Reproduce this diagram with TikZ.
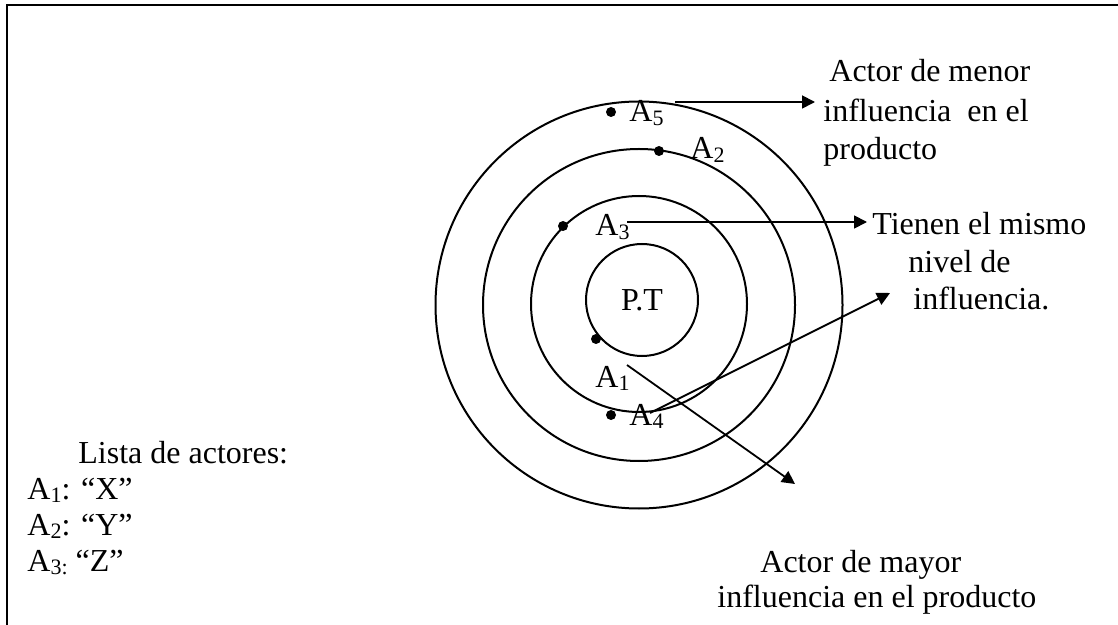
\documentclass[tikz,border=0pt]{standalone}
\usepackage{fontspec}
\setmainfont{Liberation Serif}
\usetikzlibrary{arrows.meta}
% lowered, smaller digits for actor indices
\newcommand\subs[1]{\raisebox{-1.6pt}{\fontsize{11pt}{12pt}\selectfont #1}}

\begin{document}
\begin{tikzpicture}[x=0.5pt,y=-0.5pt,
  ring/.style={draw, circle, line width=1pt, inner sep=0pt, outer sep=0pt},
  actor/.style={circle, fill, inner sep=0pt, minimum size=5pt},
  txt/.style={inner sep=0pt, font=\fontsize{16pt}{19.5pt}\selectfont},
  lbl/.style={txt, anchor=base west},
  pointer/.style={line width=0.9pt, -{Triangle[length=6.5pt,width=6.5pt]}},
  frame/.style={line width=1.4pt}
]
\useasboundingbox (0,0) rectangle (1118,625);

% page frame (top and left edges)
\draw[frame] (7,625) -- (7,5) -- (1118,5);

% concentric influence rings
\node[ring, minimum size=203.5pt] (outer) at (639,305) {};
\node[ring, minimum size=156pt] (middle) at (639,305) {};
\node[ring, minimum size=108pt] (inner) at (639,304) {};
\node[ring, txt, minimum size=56pt] (pt) at (642,300) {P.T};

% actors on the rings
\node[actor] (d5) at (611,112) {};
\node[actor] (d2) at (659,151) {};
\node[actor] (d3) at (563,226) {};
\node[actor] (d1) at (596,339) {};
\node[actor] (d4) at (611,415) {};

\node[lbl] (a5) at (629,122) {A\subs{5}};
\node[lbl] (a2) at (690,159) {A\subs{2}};
\node[lbl] (a3) at (595,236) {A\subs{3}};
\node[lbl] (a1) at (595,387) {A\subs{1}};
\node[lbl] (a4) at (629,425) {A\subs{4}};

% explanatory notes
\node[lbl] (menor1) at (829,82)  {Actor de menor};
\node[lbl] (menor2) at (823,122) {influencia\ \ en el};
\node[lbl] (menor3) at (823,160) {producto};

\node[lbl] (igual1) at (872,235) {Tienen el mismo};
\node[lbl] (igual2) at (908,273) {nivel de};
\node[lbl] (igual3) at (913,310) {influencia.};

\node[lbl] (mayor1) at (760,572) {Actor de mayor};
\node[lbl] (mayor2) at (717,607) {influencia en el producto};

% list of actors
\node[lbl] (lista) at (78,463) {Lista de actores:};
\node[lbl] (l1) at (27,499) {A\subs{1}: “X”};
\node[lbl] (l2) at (27,535) {A\subs{2}: “Y”};
\node[lbl] (l3) at (27,571) {A\subs{3:} “Z”};

% pointer ends
\coordinate (p5s) at (675,102);
\coordinate (p5e) at (815,102);
\coordinate (p3s) at (627,222);
\coordinate (p3e) at (867,222);
\coordinate (p4s) at (650,413);
\coordinate (p4e) at (890,293);
\coordinate (p1s) at (627,365);
\coordinate (p1e) at (795,484);

\draw[pointer] (p5s) -- (p5e);
\draw[pointer] (p3s) -- (p3e);
\draw[pointer] (p4s) -- (p4e);
\draw[pointer] (p1s) -- (p1e);
\end{tikzpicture}
\end{document}
